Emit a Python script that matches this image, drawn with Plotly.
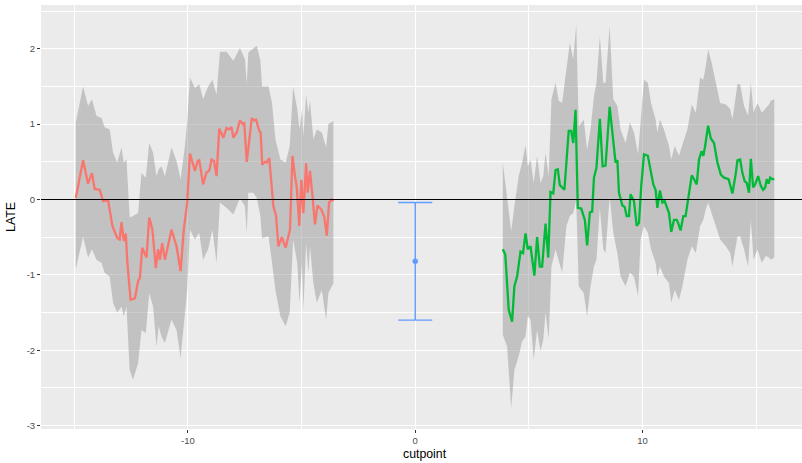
import plotly.graph_objects as go

# ---- data: left (red) series ----
red_x = [-14.93, -14.61, -14.39, -14.22, -14.10, -13.88, -13.73, -13.51, -13.32, -13.11,
         -13.00, -12.92, -12.82, -12.73, -12.66, -12.52, -12.33, -12.19, -12.11, -12.01,
         -11.82, -11.70, -11.56, -11.41, -11.31, -11.23, -11.13, -11.01, -10.72, -10.50,
         -10.32, -10.18, -10.03, -9.91, -9.69, -9.57, -9.50, -9.33, -9.18, -9.06,
         -8.96, -8.85, -8.74, -8.62, -8.44, -8.30, -8.18, -8.08, -8.00, -7.85,
         -7.71, -7.59, -7.52, -7.41, -7.19, -7.08, -7.00, -6.86, -6.80, -6.73,
         -6.61, -6.53, -6.42, -6.24, -6.12, -6.02, -5.87, -5.70, -5.51, -5.40,
         -5.29, -5.21, -5.10, -5.01, -4.92, -4.80, -4.73, -4.63, -4.51, -4.41,
         -4.30, -4.14, -4.00, -3.89, -3.79, -3.67, -3.60]
red_y = [0.02, 0.52, 0.21, 0.35, 0.14, 0.13, -0.02, -0.01, -0.35, -0.51,
         -0.53, -0.30, -0.55, -0.45, -0.84, -1.33, -1.31, -1.08, -1.04, -0.64,
         -0.77, -0.24, -0.40, -0.91, -0.66, -0.80, -0.58, -0.80, -0.40, -0.62,
         -0.95, -0.40, -0.04, 0.61, 0.38, 0.51, 0.52, 0.20, 0.36, 0.38,
         0.53, 0.51, 0.31, 0.94, 0.82, 0.95, 0.93, 0.96, 0.82, 0.89,
         1.05, 1.00, 1.01, 0.50, 1.08, 1.05, 1.06, 0.91, 0.89, 0.46,
         0.50, 0.49, 0.55, -0.09, -0.22, -0.62, -0.50, -0.64, -0.40, 0.58,
         0.31, 0.16, -0.35, 0.26, -0.18, 0.48, 0.09, 0.38, 0.02, -0.33,
         -0.08, -0.13, -0.23, -0.48, -0.04, 0.00, -0.02]

red_band_x = [-14.93, -14.61, -14.39, -14.22, -14.02, -13.80, -13.66, -13.44, -13.29, -13.11,
              -12.92, -12.82, -12.70, -12.56, -12.41, -12.19, -12.04, -11.85, -11.70, -11.53,
              -11.38, -11.28, -11.16, -11.01, -10.72, -10.50, -10.32, -10.13, -10.03, -9.91,
              -9.69, -9.50, -9.33, -9.11, -8.92, -8.74, -8.59, -8.30, -8.00, -7.71,
              -7.49, -7.41, -7.34, -7.12, -6.97, -6.81, -6.74, -6.45, -6.30, -6.15,
              -5.93, -5.70, -5.52, -5.37, -5.19, -5.09, -4.98, -4.92, -4.80, -4.70,
              -4.63, -4.48, -4.33, -4.11, -3.92, -3.82, -3.60]
red_upper = [1.02, 1.50, 1.24, 1.33, 1.11, 1.08, 0.96, 0.93, 0.62, 0.49,
             0.69, 0.49, 0.53, -0.24, -0.22, -0.18, 0.35, 0.29, 0.75, 0.62,
             0.31, 0.40, 0.44, 0.31, 0.69, 0.51, 0.27, 0.71, 1.02, 1.62,
             1.48, 1.53, 1.33, 1.50, 1.59, 1.39, 1.96, 1.96, 1.84, 2.01,
             1.86, 1.53, 1.95, 2.01, 2.04, 1.84, 1.50, 1.50, 1.28, 0.80,
             0.53, 0.49, 0.71, 1.50, 1.20, 0.93, 1.20, 0.84, 1.39, 1.15,
             1.31, 0.80, 0.93, 0.89, 0.69, 1.00, 1.04]
red_lower = [-0.93, -0.49, -0.77, -0.66, -0.80, -0.84, -0.97, -1.02, -1.37, -1.50,
             -1.42, -1.55, -1.42, -2.26, -2.39, -2.17, -1.73, -1.77, -1.24, -1.42,
             -1.95, -1.68, -1.82, -1.90, -1.59, -1.73, -2.10, -1.50, -1.20, -0.40,
             -0.53, -0.44, -0.80, -0.66, -0.40, -0.84, -0.04, -0.11, -0.20, 0.02,
             -0.09, -0.44, 0.09, 0.09, 0.02, -0.22, -0.51, -0.49, -0.84, -1.20,
             -1.55, -1.68, -1.50, -0.53, -0.84, -1.37, -0.84, -1.46, -0.58, -0.97,
             -0.62, -1.11, -1.37, -1.20, -1.59, -1.24, -1.11]

# ---- data: right (green) series ----
green_x = [3.85, 3.96, 4.11, 4.26, 4.36, 4.48, 4.63, 4.74, 4.85, 4.95,
           5.07, 5.24, 5.36, 5.48, 5.58, 5.73, 5.85, 5.95, 6.07, 6.17,
           6.27, 6.36, 6.56, 6.75, 6.86, 6.95, 7.05, 7.15, 7.30, 7.46,
           7.56, 7.68, 7.78, 7.86, 7.97, 8.12, 8.24, 8.37, 8.55, 8.71,
           8.81, 8.89, 8.96, 9.11, 9.21, 9.30, 9.40, 9.47, 9.62, 9.74,
           9.84, 9.94, 10.06, 10.23, 10.32, 10.47, 10.57, 10.65, 10.76, 10.87,
           10.97, 11.09, 11.16, 11.26, 11.38, 11.50, 11.56, 11.67, 11.79, 11.89,
           12.00, 12.16, 12.26, 12.38, 12.48, 12.59, 12.67, 12.74, 12.88, 13.00,
           13.14, 13.29, 13.44, 13.58, 13.78, 13.95, 14.10, 14.17, 14.29, 14.39,
           14.49, 14.58, 14.68, 14.76, 14.86, 14.95, 15.08, 15.20, 15.30, 15.39,
           15.46, 15.54, 15.61, 15.71, 15.79]
green_y = [-0.66, -0.73, -1.46, -1.62, -1.15, -1.02, -0.69, -0.71, -0.45, -0.66,
           -0.62, -1.01, -0.50, -0.89, -0.89, -0.32, -0.77, 0.10, 0.08, 0.39,
           0.40, 0.19, 0.13, 0.91, 0.91, 0.75, 1.19, -0.11, -0.12, -0.27,
           -0.61, -0.17, -0.16, 0.29, 0.42, 1.07, 0.44, 0.45, 1.23, 0.73,
           0.49, 0.52, 0.09, -0.08, -0.10, -0.22, -0.22, 0.07, -0.02, -0.35,
           -0.31, 0.18, 0.60, 0.58, 0.42, 0.20, 0.13, -0.11, 0.12, -0.04,
           -0.02, -0.14, -0.18, -0.43, -0.27, -0.27, -0.31, -0.41, -0.22, -0.22,
           -0.02, 0.32, 0.27, 0.20, 0.53, 0.64, 0.58, 0.69, 0.98, 0.81,
           0.75, 0.49, 0.33, 0.29, 0.27, 0.08, 0.35, 0.52, 0.53, 0.35,
           0.24, 0.22, 0.09, 0.54, 0.16, 0.20, 0.31, 0.18, 0.13, 0.16,
           0.27, 0.21, 0.29, 0.27, 0.27]

green_band_x = [3.85, 4.04, 4.22, 4.36, 4.55, 4.70, 4.85, 4.95, 5.07, 5.21,
                5.36, 5.51, 5.63, 5.73, 5.87, 5.99, 6.17, 6.31, 6.46, 6.65,
                6.80, 6.95, 7.08, 7.19, 7.41, 7.56, 7.71, 7.86, 7.97, 8.12,
                8.27, 8.37, 8.55, 8.71, 8.89, 9.03, 9.25, 9.44, 9.62, 9.80,
                9.91, 10.06, 10.23, 10.37, 10.57, 10.65, 10.76, 10.94, 11.16, 11.26,
                11.41, 11.60, 11.75, 11.97, 12.16, 12.34, 12.53, 12.67, 12.78, 12.88,
                13.03, 13.22, 13.41, 13.66, 13.85, 13.95, 14.17, 14.29, 14.46, 14.64,
                14.76, 14.88, 15.05, 15.24, 15.42, 15.56, 15.64, 15.79]
green_upper = [0.49, 0.04, -0.42, -0.09, 0.31, 0.49, 0.72, 0.44, 0.53, 0.22,
               0.58, 0.22, 0.31, 0.62, 0.31, 1.33, 1.55, 1.31, 1.28, 1.73,
               2.08, 1.86, 2.32, 0.97, 1.06, 0.66, 0.93, 1.37, 1.55, 2.17,
               1.55, 1.55, 2.30, 1.33, 1.24, 0.93, 0.75, 1.02, 0.89, 0.60,
               1.06, 1.59, 1.55, 1.28, 1.06, 0.89, 1.06, 0.93, 0.71, 0.53,
               0.71, 0.58, 0.73, 0.93, 1.26, 1.15, 1.62, 1.59, 1.77, 1.99,
               1.82, 1.55, 1.28, 1.26, 1.20, 1.06, 1.53, 1.53, 1.24, 1.11,
               1.55, 1.15, 1.28, 1.15, 1.22, 1.26, 1.31, 1.33]
green_lower = [-1.79, -1.95, -2.77, -2.26, -2.08, -1.88, -1.82, -1.55, -1.59, -2.12,
               -1.73, -2.01, -1.86, -1.50, -1.84, -0.89, -0.66, -0.80, -0.97, -0.35,
               -0.22, -0.18, 0.00, -1.15, -1.24, -1.55, -1.15, -0.89, -0.80, -0.11,
               -0.66, -0.71, 0.04, -0.44, -0.71, -1.02, -1.15, -0.97, -1.02, -1.28,
               -0.53, -0.35, -0.44, -0.66, -0.84, -1.02, -0.89, -1.02, -1.11, -1.37,
               -1.20, -1.33, -1.15, -0.80, -0.62, -0.71, -0.35, -0.27, -0.13, -0.04,
               -0.18, -0.35, -0.53, -0.62, -0.71, -0.89, -0.49, -0.49, -0.66, -0.89,
               -0.27, -0.80, -0.66, -0.84, -0.75, -0.77, -0.80, -0.77]

# ---- data: estimate at cutpoint 0 ----
est_x = [0]
est_y = [-0.82]
est_low = [-1.60]
est_high = [-0.04]

x_ticks = [-10, 0, 10]
y_ticks = [-3, -2, -1, 0, 1, 2]

RED = "#F8766D"
GREEN = "#00BA38"
BLUE = "#619CFF"
BAND = "rgba(153,153,153,0.5)"

fig = go.Figure()


def band(xs, up, lo):
    return go.Scatter(x=xs + xs[::-1], y=up + lo[::-1], fill="toself",
                      fillcolor=BAND, line=dict(width=0), mode="lines",
                      hoverinfo="skip", showlegend=False)


fig.add_trace(band(red_band_x, red_upper, red_lower))
fig.add_trace(band(green_band_x, green_upper, green_lower))
fig.add_trace(go.Scatter(x=red_x, y=red_y, mode="lines",
                         line=dict(color=RED, width=2.3), showlegend=False))
fig.add_trace(go.Scatter(x=green_x, y=green_y, mode="lines",
                         line=dict(color=GREEN, width=2.3), showlegend=False))
fig.add_trace(go.Scatter(
    x=est_x, y=est_y, mode="markers",
    marker=dict(color=BLUE, size=5.5),
    error_y=dict(type="data", symmetric=False,
                 array=[h - y for h, y in zip(est_high, est_y)],
                 arrayminus=[y - l for l, y in zip(est_low, est_y)],
                 color=BLUE, thickness=1.4, width=17),
    showlegend=False))

fig.add_shape(type="line", xref="paper", x0=0, x1=1, yref="y", y0=0, y1=0,
              line=dict(color="black", width=1.1), layer="above")

tickfont = dict(family="Liberation Sans, Arial, sans-serif", size=9.5, color="#4D4D4D")

fig.update_layout(
    width=802, height=463,
    margin=dict(l=41, r=0, t=5, b=34),
    paper_bgcolor="white", plot_bgcolor="#EBEBEB",
    font=dict(family="Liberation Sans, Arial, sans-serif"),
    xaxis=dict(range=[-16.46, 17.01], tickvals=x_ticks, ticktext=[str(v) for v in x_ticks],
               showgrid=True, gridcolor="white", gridwidth=1.2, zeroline=False,
               ticks="outside", ticklen=3, tickcolor="#333333", tickwidth=1,
               tickfont=tickfont, showline=False,
               minor=dict(tickvals=[-15, -5, 5, 15], showgrid=True,
                          gridcolor="white", gridwidth=0.6, ticks="")),
    yaxis=dict(range=[-3.044, 2.58], tickvals=y_ticks, ticktext=[str(v) for v in y_ticks],
               showgrid=True, gridcolor="white", gridwidth=1.2, zeroline=False,
               ticks="outside", ticklen=3, tickcolor="#333333", tickwidth=1,
               tickfont=tickfont, showline=False,
               title=dict(text="LATE", font=dict(size=12.3, color="black"), standoff=8),
               minor=dict(tickvals=[-2.5, -1.5, -0.5, 0.5, 1.5, 2.5], showgrid=True,
                          gridcolor="white", gridwidth=0.6, ticks="")),
    annotations=[dict(text="cutpoint", xref="paper", yref="paper",
                      x=(424.5 - 41) / 761, y=0, yshift=-16, yanchor="top",
                      showarrow=False, font=dict(size=12.3, color="black"))],
)

fig.write_html("out.html")
